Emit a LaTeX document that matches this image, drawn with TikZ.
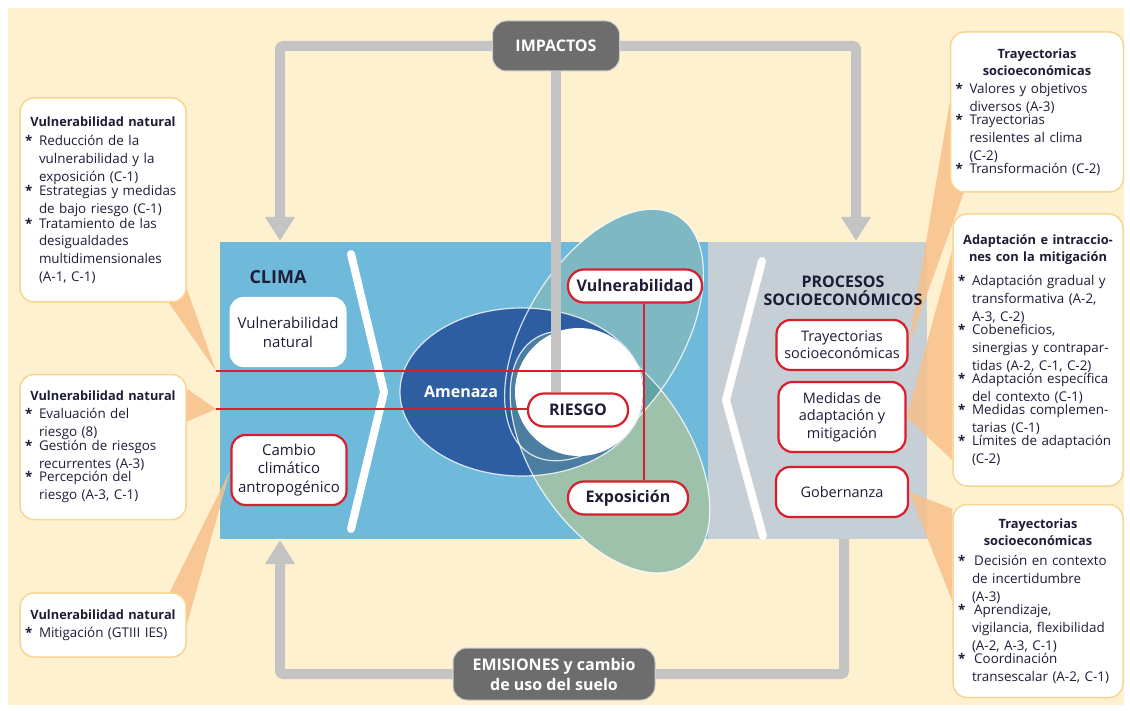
\documentclass[tikz,border=0pt]{standalone}
\usepackage{fontspec}
\setmainfont{Open Sans}
\usetikzlibrary{arrows.meta}
\pgfdeclarelayer{back}
\pgfdeclarelayer{under}
\pgfsetlayers{back,under,main}

\definecolor{cream}{HTML}{FEF1D0}
\definecolor{climablue}{HTML}{6FBADA}
\definecolor{sociogrey}{HTML}{C6CED6}
\definecolor{amenazablue}{HTML}{2D5EA2}
\definecolor{vulnteal}{HTML}{7EB8C2}
\definecolor{exposgreen}{HTML}{9EC1AB}
\definecolor{tealgreen}{HTML}{62A3A6}
\definecolor{bluegreen}{HTML}{4B7EA1}
\definecolor{riskred}{HTML}{D71F2E}
\definecolor{flowgrey}{HTML}{C4C4C4}
\definecolor{boxgrey}{HTML}{6D6D6D}
\definecolor{calloutedge}{HTML}{FAD591}
\definecolor{wedge}{HTML}{F7C08A}
\definecolor{ink}{HTML}{1E1D38}

% callout items
\newcommand{\calloutfont}{\fontsize{13.4}{17.8}\selectfont\baselineskip=17.8pt\relax}
\newlength{\starw}
\setlength{\starw}{14pt}
\newcommand{\citem}[1]{\par\noindent\makebox[\starw][l]{\textbf{*}}%
  \parbox[t]{\dimexpr\linewidth-\starw}{\calloutfont\raggedright\baselineskip=17.8pt\relax #1\par}\par}
\newcommand{\ctitle}[1]{{\centering\bfseries\fontsize{12.8}{17.5}\selectfont #1\par}}

\tikzset{
  callout/.style={draw=calloutedge, line width=1.5pt, fill=white, rounded corners=14pt,
    align=left, inner xsep=5pt, inner ysep=5pt, text=ink, font=\calloutfont},
  rednode/.style={draw=riskred, line width=2.2pt, fill=white, rounded corners=14pt,
    align=center, text=ink, font=\fontsize{14.5}{17.5}\selectfont},
  pill/.style={rednode, rounded corners=16pt, minimum height=33pt,
    font=\fontsize{16}{20}\selectfont\bfseries},
  darkbox/.style={fill=boxgrey, draw=white!80!black, line width=1pt, rounded corners=14pt,
    text=white, align=center, font=\fontsize{16}{20}\selectfont\bfseries},
  flow/.style={draw=flowgrey, line width=10pt, rounded corners=3pt},
  flowtip/.style={flow, -{Triangle[width=28pt,length=24pt]}},
  chevron/.style={draw=white, line width=8pt, line cap=round, line join=round},
  wedgefill/.style={fill=wedge, fill opacity=0.85},
  redline/.style={draw=riskred, line width=2pt},
  blobline/.style={draw=white, line width=1.2pt, draw opacity=0.8},
}

\begin{document}
\begin{tikzpicture}[x=1pt,y=-1pt]
\useasboundingbox (0,0) rectangle (1130,711);

\begin{pgfonlayer}{back}
  \fill[cream] (8,8) rectangle (1124,705);
  \fill[climablue] (220,242) rectangle (708,539);
  \fill[sociogrey] (708,242) rectangle (927,539);
\end{pgfonlayer}

% chevrons
\draw[chevron] (351,254) -- (384,392) -- (351,529);
\draw[chevron] (762,261) -- (726,400) -- (763,536);

% risk blobs
\fill[vulnteal] (604,335) ellipse [x radius=140, y radius=78, rotate=58];
\fill[amenazablue] (522,392) ellipse [x radius=122, y radius=84];
\fill[exposgreen] (610,452) ellipse [x radius=136, y radius=78, rotate=-56];
\begin{scope}
  \clip (610,452) ellipse [x radius=136, y radius=78, rotate=-56];
  \fill[tealgreen] (604,335) ellipse [x radius=140, y radius=78, rotate=58];
  \fill[bluegreen] (522,392) ellipse [x radius=122, y radius=84];
\end{scope}
\draw[blobline] (604,335) ellipse [x radius=140, y radius=78, rotate=58];
\draw[blobline] (522,392) ellipse [x radius=122, y radius=84];
\draw[blobline] (610,452) ellipse [x radius=136, y radius=78, rotate=-56];
\fill[white] (579,392) circle [radius=64];

\node[text=white, font=\fontsize{16}{18}\selectfont\bfseries] (amenaza) at (461,392) {Amenaza};

% nodes
\node[pill, minimum width=134pt] (vuln) at (635,286) {Vulnerabilidad};
\node[pill, minimum width=100pt] (riesgo) at (578,410) {RIESGO};
\node[pill, minimum width=120pt] (expo) at (628,498) {Exposición};

\node[text=ink, font=\fontsize{18}{22}\selectfont\bfseries] (clima) at (278,277) {CLIMA};
\node[fill=white, rounded corners=14pt, minimum width=117pt, minimum height=70pt,
  align=center, text=ink, font=\fontsize{15}{19}\selectfont] (vulnnat) at (288,332) {Vulnerabilidad\\natural};
\node[rednode, minimum width=115pt, minimum height=70pt, inner xsep=2pt,
  font=\fontsize{15}{18.7}\selectfont] (cambio) at (289,470) {Cambio\\climático\\antropogénico};

\node[text=ink, align=center, font=\fontsize{16}{18.5}\selectfont\bfseries] (procesos) at (843,291) {PROCESOS\\SOCIOECONÓMICOS};
\node[rednode, minimum width=131pt, minimum height=50pt] (trayect) at (842,345) {Trayectorias\\socioeconómicas};
\node[rednode, minimum width=127pt, minimum height=70pt] (medidas) at (842,417) {Medidas de\\adaptación y\\mitigación};
\node[rednode, minimum width=132pt, minimum height=50pt] (gobern) at (842,492) {Gobernanza};

\node[darkbox, minimum width=127pt, minimum height=50pt] (impactos) at (556,46) {IMPACTOS};
\node[darkbox, minimum width=202pt, minimum height=52pt] (emisiones) at (554,674) {EMISIONES y cambio\\de uso del suelo};

% links
\coordinate (tlend) at (216,371);
\coordinate (mlend) at (216,409);
\coordinate (spine) at (644,371);
\draw[flow] (impactos.south) -- (impactos.south |- riesgo.north);
\draw[redline] (vuln.south -| spine) -- (expo.north -| spine);
\draw[redline] (tlend) -- (spine);
\draw[redline] (mlend) -- (mlend -| riesgo.west);

% callouts
\node[callout, text width=156pt, minimum height=204pt] (tl) at (103,200) {%
  \ctitle{Vulnerabilidad natural}\vspace{2pt}
  \citem{Reducción de la\\vulnerabilidad y la\\exposición (C-1)}
  \citem{Estrategias y medidas\\de bajo riesgo (C-1)}
  \citem{Tratamiento de las\\desigualdades\\multidimensionales\\(A-1, C-1)}};
\node[callout, text width=156pt, minimum height=145pt] (ml) at (103,447) {%
  \ctitle{Vulnerabilidad natural}
  \citem{Evaluación del\\riesgo (8)}
  \citem{Gestión de riesgos\\recurrentes (A-3)}
  \citem{Percepción del\\riesgo (A-3, C-1)}};
\node[callout, text width=156pt, minimum height=64pt] (bl) at (103,625) {%
  \ctitle{Vulnerabilidad natural}
  \citem{Mitigación (GTIII IES)}};
\node[callout, text width=163pt, minimum height=160pt] (tr) at (1037,112) {%
  \ctitle{Trayectorias\\socioeconómicas}
  \citem{Valores y objetivos\\diversos (A-3)}
  \citem{Trayectorias\\resilentes al clima\\(C-2)}
  \citem{Transformación (C-2)}};
\node[callout, text width=160pt, minimum height=272pt] (mr) at (1038,350) {%
  \ctitle{Adaptación e intraccio-\\nes con la mitigación}\vspace{6pt}
  \citem{Adaptación gradual y\\transformativa (A-2,\\A-3, C-2)}
  \citem{Cobeneficios,\\sinergias y contrapar-\\tidas (A-2, C-1, C-2)}
  \citem{Adaptación específica\\del contexto (C-1)}
  \citem{Medidas complemen-\\tarias (C-1)}
  \citem{Límites de adaptación\\(C-2)}};
\node[callout, text width=160pt, minimum height=193pt] (br) at (1038,601) {%
  \ctitle{Trayectorias\\socioeconómicas}\vspace{2pt}
  \citem{\,Decisión en contexto\\de incertidumbre\\(A-3)}
  \citem{\,Aprendizaje,\\vigilancia, flexibilidad\\(A-2, A-3, C-1)}
  \citem{\,Coordinación\\transescalar (A-2, C-1)}};

\begin{pgfonlayer}{under}
  % grey cycle
  \coordinate (climatop) at (280,241);
  \coordinate (sociotop) at (856,241);
  \coordinate (climabot) at (280,540);
  \coordinate (sociobot) at (844,539);
  \draw[flowtip] (impactos.west) -| (climatop);
  \draw[flowtip] (impactos.east) -| (sociotop);
  \draw[flowtip] (emisiones.west) -| (climabot);
  \draw[flow] (emisiones.east) -| (sociobot);
  % callout wedges
  \fill[wedgefill] (tlend) -- ([xshift=-18pt]tl.south east) -- ([yshift=14pt]tl.south east) -- cycle;
  \fill[wedgefill] (mlend) -- ([yshift=-15pt]ml.north east) -- ([yshift=-48pt]ml.north east) -- cycle;
  \fill[wedgefill] (cambio.west) -- ([xshift=-17pt]bl.north east) -- (bl.east) -- cycle;
  \fill[wedgefill] (trayect.east) -- ([yshift=10pt]tr.west) -- ([xshift=14pt]tr.south west) -- cycle;
  \fill[wedgefill] (medidas.east) -- ([yshift=100pt]mr.west) -- ([yshift=-110pt]mr.west) -- cycle;
  \fill[wedgefill] (gobern.east) -- ([yshift=-5pt]br.north west) -- (br.west) -- cycle;
\end{pgfonlayer}
\end{tikzpicture}
\end{document}
